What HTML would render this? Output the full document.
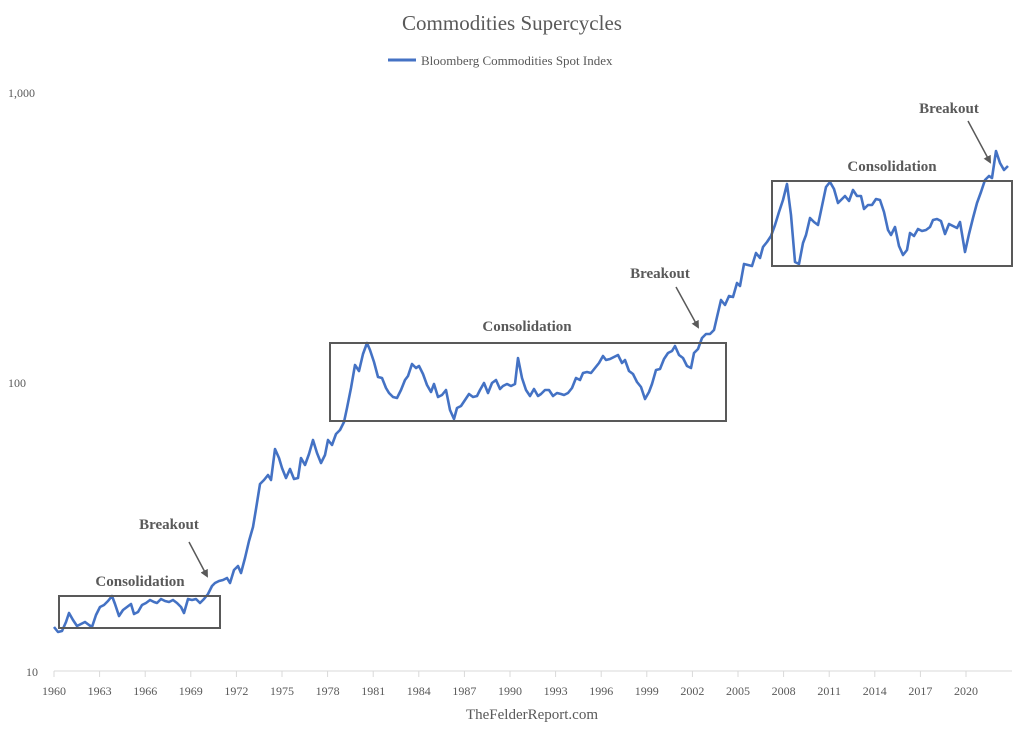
<!DOCTYPE html>
<html><head><meta charset="utf-8"><style>body{margin:0;background:#fff}svg{display:block}</style></head><body>
<svg width="1024" height="741" viewBox="0 0 1024 741" xmlns="http://www.w3.org/2000/svg" font-family="Liberation Serif, serif" fill="#595959">
<text x="512" y="30" font-size="21" text-anchor="middle">Commodities Supercycles</text>
<line x1="388" y1="60" x2="416" y2="60" stroke="#4472c4" stroke-width="3"/>
<text x="421" y="65" font-size="13">Bloomberg Commodities Spot Index</text>
<text x="8" y="97" font-size="12">1,000</text>
<text x="8" y="387" font-size="12">100</text>
<text x="26" y="676" font-size="12">10</text>
<line x1="54" y1="671" x2="1012" y2="671" stroke="#d9d9d9" stroke-width="1"/>
<g stroke="#d9d9d9">
<line x1="54" y1="671" x2="54" y2="677"/><line x1="99.6" y1="671" x2="99.6" y2="677"/><line x1="145.2" y1="671" x2="145.2" y2="677"/><line x1="190.8" y1="671" x2="190.8" y2="677"/><line x1="236.4" y1="671" x2="236.4" y2="677"/><line x1="282" y1="671" x2="282" y2="677"/><line x1="327.6" y1="671" x2="327.6" y2="677"/><line x1="373.2" y1="671" x2="373.2" y2="677"/><line x1="418.8" y1="671" x2="418.8" y2="677"/><line x1="464.4" y1="671" x2="464.4" y2="677"/><line x1="510" y1="671" x2="510" y2="677"/><line x1="555.6" y1="671" x2="555.6" y2="677"/><line x1="601.2" y1="671" x2="601.2" y2="677"/><line x1="646.8" y1="671" x2="646.8" y2="677"/><line x1="692.4" y1="671" x2="692.4" y2="677"/><line x1="738" y1="671" x2="738" y2="677"/><line x1="783.6" y1="671" x2="783.6" y2="677"/><line x1="829.2" y1="671" x2="829.2" y2="677"/><line x1="874.8" y1="671" x2="874.8" y2="677"/><line x1="920.4" y1="671" x2="920.4" y2="677"/><line x1="966" y1="671" x2="966" y2="677"/>
</g>
<g font-size="12" text-anchor="middle">
<text x="54" y="695">1960</text><text x="99.6" y="695">1963</text><text x="145.2" y="695">1966</text><text x="190.8" y="695">1969</text><text x="236.4" y="695">1972</text><text x="282" y="695">1975</text><text x="327.6" y="695">1978</text><text x="373.2" y="695">1981</text><text x="418.8" y="695">1984</text><text x="464.4" y="695">1987</text><text x="510" y="695">1990</text><text x="555.6" y="695">1993</text><text x="601.2" y="695">1996</text><text x="646.8" y="695">1999</text><text x="692.4" y="695">2002</text><text x="738" y="695">2005</text><text x="783.6" y="695">2008</text><text x="829.2" y="695">2011</text><text x="874.8" y="695">2014</text><text x="920.4" y="695">2017</text><text x="966" y="695">2020</text>
</g>
<text x="532" y="719" font-size="15" text-anchor="middle">TheFelderReport.com</text>
<polyline fill="none" stroke="#4472c4" stroke-width="2.6" stroke-linejoin="round" points="54,627 58,632 62,631 66,622 69,613 73,620 77,626 81,624 85,622 89,625 92,627 96,615 100,607 104,605 108,601 112,596 115,604 119,616 123,610 127,607 131,604 134,614 138,612 142,605 146,603 150,600 154,602 157,603 161,599 165,601 169,602 173,600 177,603 181,607 184,613 188,599 192,600 196,599 200,603 204,599 208,594 212,586 215,583 219,581 223,580 227,578 230,583 234,570 238,566 241,573 245,558 249,541 253,527 256,509 260,484 264,480 268,475 271,480 275,449 279,458 282,468 286,478 290,469 294,479 298,478 301,458 305,465 309,454 313,440 317,453 321,463 325,455 328,440 332,445 336,434 340,430 344,422 347,408 351,388 355,365 359,371 363,354 367,343 370,350 374,362 378,377 382,378 386,388 389,393 393,397 397,398 401,390 405,380 408,376 412,364 416,368 419,366 423,374 427,385 431,392 434,384 438,397 442,395 446,390 450,410 454,419 457,408 461,406 465,400 469,394 473,397 477,396 480,390 484,383 488,393 492,383 496,380 500,389 503,386 507,384 511,386 515,384 518,358 522,378 526,390 530,396 534,389 538,396 541,394 545,390 549,390 553,396 557,393 561,394 564,395 568,393 572,388 576,378 580,380 583,373 587,372 591,373 595,368 599,363 603,356 606,360 610,359 614,357 618,355 622,363 625,360 629,371 633,374 637,382 641,387 645,399 649,392 652,384 656,370 660,369 664,359 668,353 672,351 675,346 679,355 683,358 687,366 691,368 694,353 698,349 702,338 706,334 710,334 714,330 717,317 721,300 725,305 729,296 733,297 737,283 740,286 744,264 748,265 752,266 756,253 760,258 763,247 767,242 771,236 775,225 779,212 783,200 787,184 791,215 795,262 799,264 803,243 806,235 810,218 814,222 818,225 822,206 826,187 830,182 834,189 838,203 841,200 845,196 849,201 853,190 857,196 861,196 864,209 868,205 872,205 876,199 880,200 884,212 888,230 891,235 895,227 899,246 903,255 907,250 910,233 914,236 918,229 922,231 926,230 930,227 933,220 937,219 941,221 945,234 949,224 953,226 957,228 960,222 965,252 969,234 973,218 977,203 981,192 985,180 989,176 992,178 996,151 1000,163 1004,170 1008,166"/>
<g fill="none" stroke="#595959" stroke-width="2">
<rect x="59" y="596" width="161" height="32"/>
<rect x="330" y="343" width="396" height="78"/>
<rect x="772" y="181" width="240" height="85"/>
</g>
<defs><marker id="ah" markerWidth="8" markerHeight="8" refX="6" refY="4" orient="auto" markerUnits="userSpaceOnUse"><path d="M0,0 L8,4 L0,8 z" fill="#595959"/></marker></defs>
<g stroke="#595959" stroke-width="1.5">
<line x1="189" y1="542" x2="207" y2="576" marker-end="url(#ah)"/>
<line x1="676" y1="287" x2="698" y2="327" marker-end="url(#ah)"/>
<line x1="968" y1="121" x2="990" y2="162" marker-end="url(#ah)"/>
</g>
<g font-size="15" font-weight="bold" text-anchor="middle">
<text x="140" y="586">Consolidation</text>
<text x="169" y="529">Breakout</text>
<text x="527" y="331">Consolidation</text>
<text x="660" y="278">Breakout</text>
<text x="892" y="171">Consolidation</text>
<text x="949" y="113">Breakout</text>
</g>
</svg>
</body></html>
